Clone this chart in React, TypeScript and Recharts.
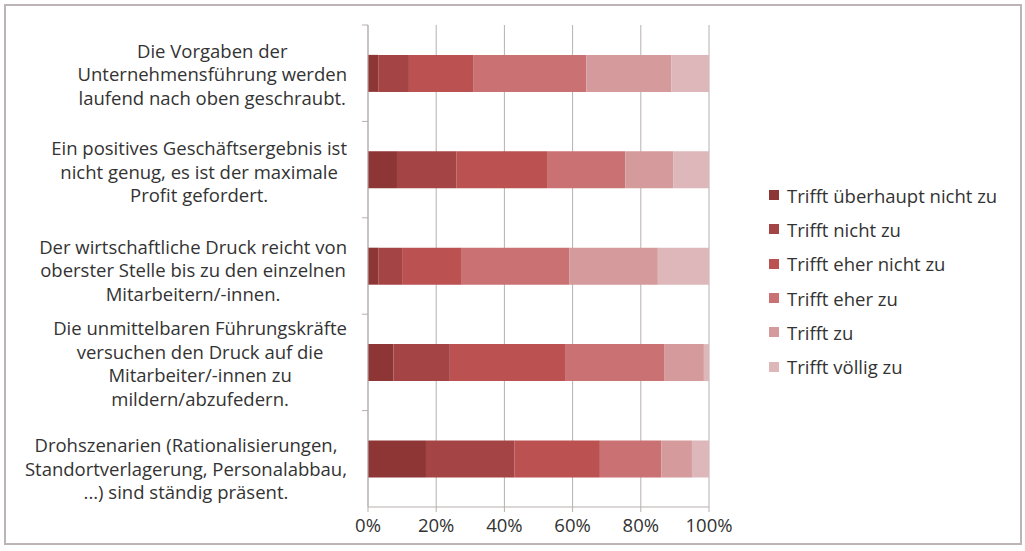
import { Bar, BarChart, CartesianGrid, XAxis, YAxis } from "recharts";

const statements = [
  ["Die Vorgaben der", "Unternehmensführung werden", "laufend nach oben geschraubt."],
  ["Ein positives Geschäftsergebnis ist", "nicht genug, es ist der maximale", "Profit gefordert."],
  ["Der wirtschaftliche Druck reicht von", "oberster Stelle bis zu den einzelnen", "Mitarbeitern/-innen."],
  ["Die unmittelbaren Führungskräfte", "versuchen den Druck auf die", "Mitarbeiter/-innen zu", "mildern/abzufedern."],
  ["Drohszenarien (Rationalisierungen,", "Standortverlagerung, Personalabbau,", "...) sind ständig präsent."],
];

const levels = [
  "Trifft überhaupt nicht zu",
  "Trifft nicht zu",
  "Trifft eher nicht zu",
  "Trifft eher zu",
  "Trifft zu",
  "Trifft völlig zu",
];

// percent shares per statement
const ueberhauptNicht = [3, 8.5, 3, 7.5, 17];
const nicht = [9, 17.5, 7, 16.5, 26];
const eherNicht = [19, 26.5, 17.5, 34, 25];
const eherZu = [33, 23, 31.5, 29, 18];
const zu = [25, 14, 26, 11.5, 9];
const voellig = [11, 10.5, 15, 1.5, 5];

const xTicks = [0, 0.2, 0.4, 0.6, 0.8, 1];

const colors = ["#8e3636", "#a54444", "#bb5151", "#ca7273", "#d59a9c", "#ddb7ba"];
const font = "'Open Sans', sans-serif";
const textColor = "#333";
const lineColor = "#b8afaf";

const series = [ueberhauptNicht, nicht, eherNicht, eherZu, zu, voellig];
const data = statements.map((lines, i) => {
  const row: Record<string, any> = { key: lines.join(" ") };
  series.forEach((s, j) => (row["s" + j] = s[i]));
  return row;
});

const W = 1025;
const H = 551;
const M = { top: 25, right: 316, bottom: 0, left: 0 };
const Y_W = 368;
const X_H = 44;
const LABEL_SIZE = 18.5;
const LINE_H = 23.5;
const band = (H - M.top - X_H) / statements.length;
// the last label sits a little low in the original
const labelNudge = [0, 1, 3, 0, 9];

let ctx: CanvasRenderingContext2D | null = null;
function measure(s: string) {
  if (!ctx) ctx = document.createElement("canvas").getContext("2d");
  if (!ctx) return s.length * 9.5;
  ctx.font = `${LABEL_SIZE}px 'Open Sans'`;
  return ctx.measureText(s).width;
}

function StatementTick(props: any) {
  const { y, payload, index } = props;
  const lines = statements[index] ?? [String(payload.value)];
  const block = Math.max(...lines.map(measure));
  const cx = Y_W - 21 - block / 2;
  const y0 = y - ((lines.length - 1) * LINE_H) / 2 + (labelNudge[index] ?? 0);
  return (
    <g>
      <line x1={Y_W - 6} x2={Y_W} y1={y - band / 2} y2={y - band / 2} stroke={lineColor} />
      <text
        x={cx}
        y={y0}
        textAnchor="middle"
        dominantBaseline="central"
        fontFamily={font}
        fontSize={LABEL_SIZE}
        fill={textColor}
      >
        {lines.map((l, k) => (
          <tspan key={k} x={cx} y={y0 + k * LINE_H}>
            {l}
          </tspan>
        ))}
      </text>
    </g>
  );
}

function LegendBox() {
  return (
    <div
      style={{
        position: "absolute",
        left: 769,
        top: 178,
        fontFamily: font,
        fontSize: 18.5,
        color: textColor,
        whiteSpace: "nowrap",
      }}
    >
      {levels.map((name, i) => (
        <div key={name} style={{ display: "flex", alignItems: "center", height: 34.3 }}>
          <span style={{ width: 10, height: 10, background: colors[i], marginRight: 8 }} />
          <span>{name}</span>
        </div>
      ))}
    </div>
  );
}

export default function App() {
  return (
    <div style={{ position: "absolute", left: 0, top: 0, width: W, height: H, background: "#fff" }}>
      <div
        style={{
          position: "absolute",
          left: 4,
          top: 4,
          width: 1014,
          height: 537,
          border: "2px solid #bdb5b5",
        }}
      />
      <div style={{ position: "absolute", left: 0, top: 0 }}>
        <BarChart
          width={W}
          height={H}
          data={data}
          layout="vertical"
          stackOffset="expand"
          margin={M}
          barCategoryGap="31%"
        >
          <CartesianGrid horizontal={false} stroke={lineColor} />
          <XAxis
            type="number"
            domain={[0, 1]}
            ticks={xTicks}
            height={X_H}
            tickFormatter={(v: number) => `${Math.round(v * 100)}%`}
            tick={{ fill: textColor, fontSize: 18.5, fontFamily: font, dy: 5 }}
            axisLine={{ stroke: lineColor }}
            tickLine={{ stroke: lineColor }}
            tickSize={5}
            interval={0}
          />
          <YAxis
            type="category"
            dataKey="key"
            width={Y_W}
            tick={<StatementTick />}
            axisLine={{ stroke: lineColor }}
            tickLine={false}
            interval={0}
          />
          {levels.map((name, i) => (
            <Bar key={name} dataKey={"s" + i} name={name} stackId="a" fill={colors[i]} isAnimationActive={false} />
          ))}
        </BarChart>
      </div>
      <LegendBox />
    </div>
  );
}
